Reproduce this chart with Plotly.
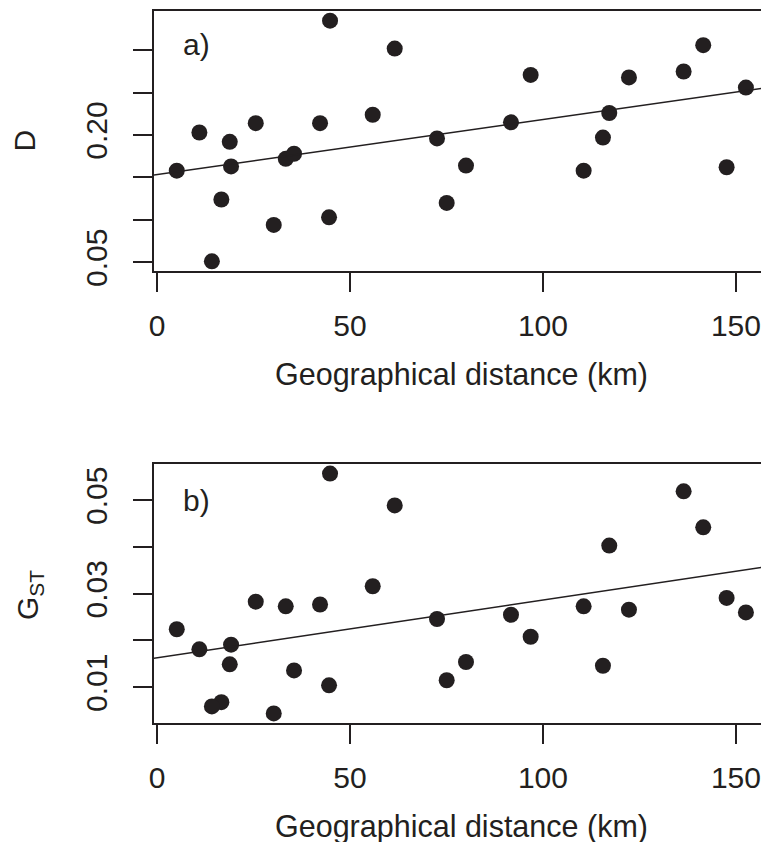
import numpy as np
import plotly.graph_objects as go

# ---- data ----
dist_km = [5.10, 10.96, 18.83, 19.17, 16.66, 14.20, 25.57, 33.34, 35.49, 30.23,
           42.23, 44.56, 44.82, 55.88, 61.58, 72.54, 80.05, 75.05, 96.81, 91.71,
           110.54, 115.54, 117.18, 122.28, 136.45, 141.53, 147.59, 152.59]
D_vals = [0.158, 0.203, 0.192, 0.163, 0.124, 0.051, 0.214, 0.172, 0.178, 0.094,
          0.214, 0.103, 0.335, 0.224, 0.302, 0.196, 0.164, 0.120, 0.271, 0.215,
          0.158, 0.197, 0.226, 0.268, 0.275, 0.306, 0.162, 0.256]
GST_vals = [0.0224, 0.0181, 0.0149, 0.0191, 0.0068, 0.0059, 0.0283, 0.0273, 0.0136, 0.0044,
            0.0277, 0.0104, 0.0557, 0.0316, 0.0489, 0.0246, 0.0154, 0.0115, 0.0208, 0.0255,
            0.0273, 0.0146, 0.0403, 0.0266, 0.0519, 0.0442, 0.0291, 0.0260]

x_ticks = [0, 50, 100, 150]
x_ticklabels = ["0", "50", "100", "150"]
D_ticks = [0.05, 0.10, 0.15, 0.20, 0.25, 0.30]
D_labelled = [0.05, 0.20]
D_ticklabels = ["0.05", "0.20"]
G_ticks = [0.01, 0.02, 0.03, 0.04, 0.05]
G_labelled = [0.01, 0.03, 0.05]
G_ticklabels = ["0.01", "0.03", "0.05"]

x_title = "Geographical distance (km)"
D_title = "D"
G_title = "G<sub>ST</sub>"
panel_a = "a)"
panel_b = "b)"

# ---- styling ----
INK = "#231f20"
FONT = "Liberation Sans, Arial, Helvetica, sans-serif"
FS = 30

x = np.array(dist_km)
xlo = x.min() - 0.04 * (x.max() - x.min())
x_range = [xlo, 156.5]


def rlim(v):
    v = np.asarray(v)
    pad = 0.04 * (v.max() - v.min())
    return [v.min() - pad, v.max() + pad]


fig = go.Figure()

for vals, xa, ya in [(D_vals, "x", "y"), (GST_vals, "x2", "y2")]:
    fig.add_trace(go.Scatter(x=dist_km, y=vals, mode="markers", xaxis=xa, yaxis=ya,
                             marker=dict(size=16, color=INK, line=dict(width=0)),
                             showlegend=False, hoverinfo="x+y"))
    b, a = np.polyfit(x, np.asarray(vals), 1)
    xl = np.array([x_range[0] - 5, x_range[1] + 5])
    fig.add_trace(go.Scatter(x=xl, y=a + b * xl, mode="lines", xaxis=xa, yaxis=ya,
                             line=dict(color=INK, width=1.5), showlegend=False,
                             hoverinfo="skip"))

axis_common = dict(showline=True, linecolor=INK, linewidth=1.6, ticks="outside",
                   ticklen=19, tickwidth=1.5, tickcolor=INK, showgrid=False,
                   zeroline=False, tickfont=dict(family=FONT, size=FS, color=INK))
minor_common = dict(ticks="outside", ticklen=19, tickwidth=1.5, tickcolor=INK,
                    showgrid=False)

top_dom = [(723 - 271) / 712, 1.0]
bot_dom = [0.0, (723 - 464) / 712]

fig.update_layout(
    width=761, height=842,
    margin=dict(l=154, r=0, t=11, b=119),
    paper_bgcolor="white", plot_bgcolor="white",
    font=dict(family=FONT, size=FS, color=INK),
    xaxis=dict(domain=[0, 1], anchor="y", range=x_range, tickvals=x_ticks,
               ticktext=x_ticklabels, mirror=True, ticklabelstandoff=8, **axis_common),
    yaxis=dict(domain=top_dom, anchor="x", range=rlim(D_vals), tickvals=D_labelled,
               ticktext=D_ticklabels, tickangle=-90, ticklabelstandoff=14,
               minor=dict(tickmode="array", tickvals=D_ticks, **minor_common),
               **axis_common),
    xaxis2=dict(domain=[0, 1], anchor="y2", range=x_range, tickvals=x_ticks,
                ticktext=x_ticklabels, mirror=True, ticklabelstandoff=8, **axis_common),
    yaxis2=dict(domain=bot_dom, anchor="x2", range=rlim(GST_vals), tickvals=G_labelled,
                ticktext=G_ticklabels, tickangle=-90, ticklabelstandoff=14,
                minor=dict(tickmode="array", tickvals=G_ticks, **minor_common),
                **axis_common),
)


def px_x(p):
    return (p - 154) / 607


def px_y(p):
    return (723 - p) / 712


ann = [
    dict(text=x_title, x=px_x(461.5), y=px_y(374), xanchor="center", yanchor="middle", size=30.5),
    dict(text=x_title, x=px_x(461.5), y=px_y(826), xanchor="center", yanchor="middle", size=30.5),
    dict(text=D_title, x=px_x(24.5), y=px_y(141), xanchor="center", yanchor="middle", textangle=-90, size=FS),
    dict(text=G_title, x=px_x(29), y=px_y(595), xanchor="center", yanchor="middle", textangle=-90, size=FS),
    dict(text=panel_a, x=px_x(181), y=px_y(45), xanchor="left", yanchor="middle", size=FS),
    dict(text=panel_b, x=px_x(181), y=px_y(500), xanchor="left", yanchor="middle", size=FS),
]
for a_ in ann:
    sz = a_.pop("size")
    fig.add_annotation(xref="paper", yref="paper", showarrow=False,
                       font=dict(family=FONT, size=sz, color=INK), **a_)

fig.write_html(
    "out.html",
    config={"displayModeBar": False},
    post_script="document.body.style.margin='0';document.body.style.overflow='hidden';",
)
